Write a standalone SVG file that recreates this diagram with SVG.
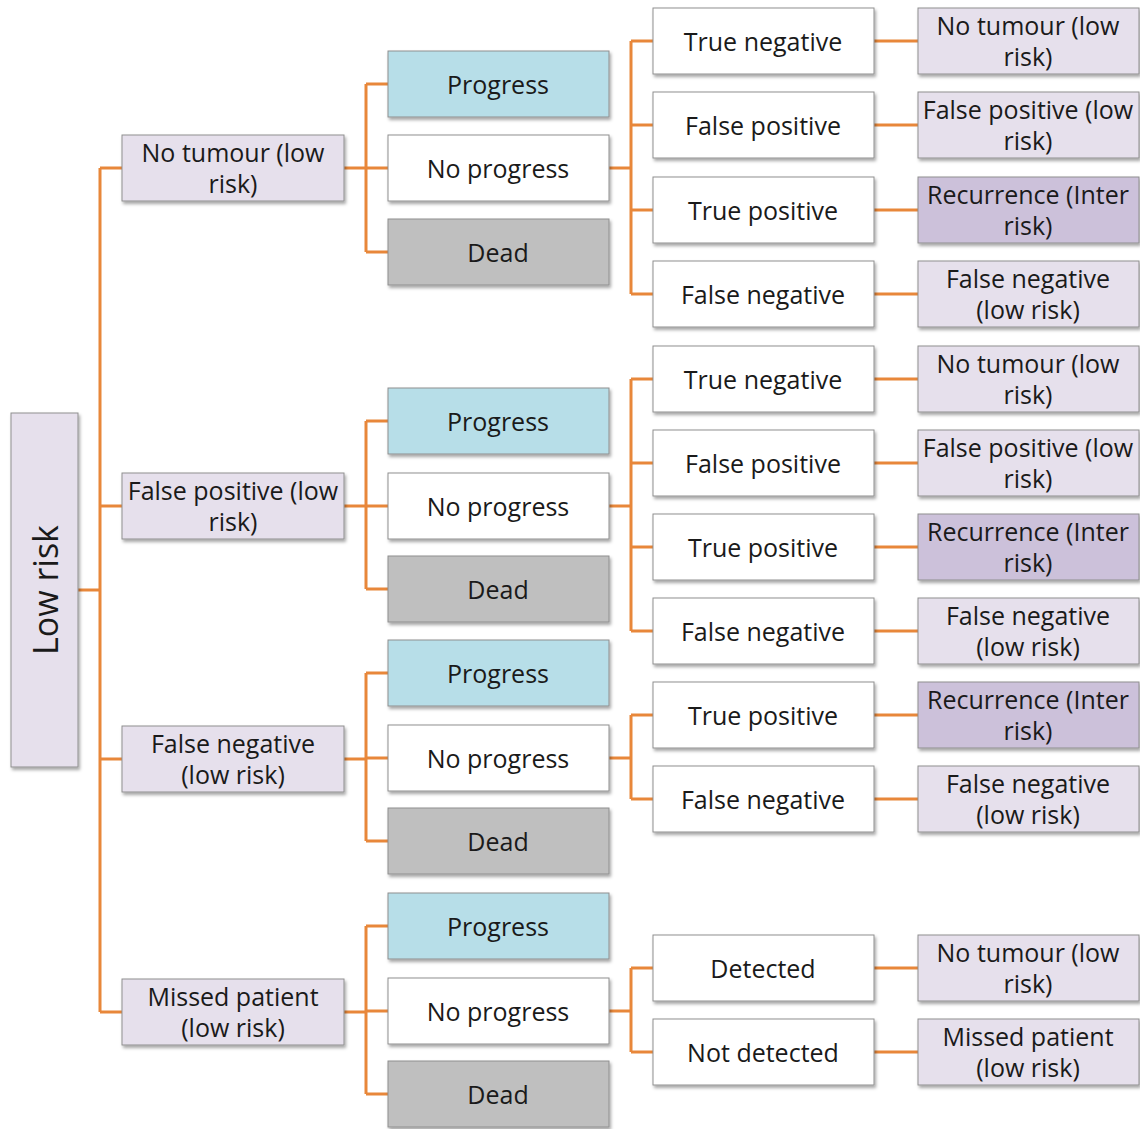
<svg xmlns="http://www.w3.org/2000/svg" width="1140" height="1129" viewBox="0 0 1140 1129">
<defs>
<filter id="sh" x="-10%" y="-10%" width="130%" height="140%">
<feDropShadow dx="1.5" dy="2.5" stdDeviation="1.5" flood-color="#000" flood-opacity="0.35"/>
</filter>
</defs>
<style>
rect{stroke:#8f8f8f;stroke-width:1;filter:url(#sh)}
.lav{fill:#e6e0ec}
.pur{fill:#ccc1da}
.blu{fill:#b7dee8}
.gry{fill:#bfbfbf}
.wht{fill:#ffffff}
text{font-family:"Open Sans","Liberation Sans",sans-serif;font-size:25px;fill:#1a1a1a;text-anchor:middle;dominant-baseline:central}
.c path{fill:none;stroke:#e8873a;stroke-width:3}
</style>
<rect width="1140" height="1129" fill="#ffffff" style="stroke:none;filter:none"/>
<g class="c" id="connectors">
<path d="M78 590H100M100 168V1012M100 168H122M100 506H122M100 759H122M100 1012H122"/>
<path d="M344 168H366M366 84V252M366 84H388M366 168H388M366 252H388"/>
<path d="M344 506H366M366 421V589M366 421H388M366 506H388M366 589H388"/>
<path d="M344 759H366M366 673V841M366 673H388M366 758H388M366 841H388"/>
<path d="M344 1012H366M366 926V1094M366 926H388M366 1011H388M366 1094H388"/>
<path d="M609 168H631M631 41V294M631 41H653M631 125H653M631 210H653M631 294H653"/>
<path d="M609 506H631M631 379V631M631 379H653M631 463H653M631 547H653M631 631H653"/>
<path d="M609 758H631M631 715V799M631 715H653M631 799H653"/>
<path d="M609 1011H631M631 968V1052M631 968H653M631 1052H653"/>
<path d="M874 41H918M874 125H918M874 210H918M874 294H918M874 379H918M874 463H918M874 547H918M874 631H918M874 715H918M874 799H918M874 968H918M874 1052H918"/>
</g>
<g id="low-risk"><rect class="lav" x="11" y="413" width="67" height="354"/><text transform="translate(45 590) rotate(-90)" style="font-size:34px">Low risk</text></g>
<g id="l1-a"><rect class="lav" x="122" y="135" width="222" height="66"/><text x="233" y="152">No tumour (low</text><text x="233" y="183">risk)</text></g>
<g id="l1-b"><rect class="lav" x="122" y="473" width="222" height="66"/><text x="233" y="490">False positive (low</text><text x="233" y="521">risk)</text></g>
<g id="l1-c"><rect class="lav" x="122" y="726" width="222" height="66"/><text x="233" y="743">False negative</text><text x="233" y="774">(low risk)</text></g>
<g id="l1-d"><rect class="lav" x="122" y="979" width="222" height="66"/><text x="233" y="996">Missed patient</text><text x="233" y="1027">(low risk)</text></g>
<g id="a-progress"><rect class="blu" x="388" y="51" width="221" height="66"/><text x="498" y="84">Progress</text></g>
<g id="a-noprogress"><rect class="wht" x="388" y="135" width="221" height="66"/><text x="498" y="168">No progress</text></g>
<g id="a-dead"><rect class="gry" x="388" y="219" width="221" height="66"/><text x="498" y="252">Dead</text></g>
<g id="b-progress"><rect class="blu" x="388" y="388" width="221" height="66"/><text x="498" y="421">Progress</text></g>
<g id="b-noprogress"><rect class="wht" x="388" y="473" width="221" height="66"/><text x="498" y="506">No progress</text></g>
<g id="b-dead"><rect class="gry" x="388" y="556" width="221" height="66"/><text x="498" y="589">Dead</text></g>
<g id="c-progress"><rect class="blu" x="388" y="640" width="221" height="66"/><text x="498" y="673">Progress</text></g>
<g id="c-noprogress"><rect class="wht" x="388" y="725" width="221" height="66"/><text x="498" y="758">No progress</text></g>
<g id="c-dead"><rect class="gry" x="388" y="808" width="221" height="66"/><text x="498" y="841">Dead</text></g>
<g id="d-progress"><rect class="blu" x="388" y="893" width="221" height="66"/><text x="498" y="926">Progress</text></g>
<g id="d-noprogress"><rect class="wht" x="388" y="978" width="221" height="66"/><text x="498" y="1011">No progress</text></g>
<g id="d-dead"><rect class="gry" x="388" y="1061" width="221" height="66"/><text x="498" y="1094">Dead</text></g>
<g id="a-tn"><rect class="wht" x="653" y="8" width="221" height="66"/><text x="763" y="41">True negative</text></g>
<g id="a-fp"><rect class="wht" x="653" y="92" width="221" height="66"/><text x="763" y="125">False positive</text></g>
<g id="a-tp"><rect class="wht" x="653" y="177" width="221" height="66"/><text x="763" y="210">True positive</text></g>
<g id="a-fn"><rect class="wht" x="653" y="261" width="221" height="66"/><text x="763" y="294">False negative</text></g>
<g id="b-tn"><rect class="wht" x="653" y="346" width="221" height="66"/><text x="763" y="379">True negative</text></g>
<g id="b-fp"><rect class="wht" x="653" y="430" width="221" height="66"/><text x="763" y="463">False positive</text></g>
<g id="b-tp"><rect class="wht" x="653" y="514" width="221" height="66"/><text x="763" y="547">True positive</text></g>
<g id="b-fn"><rect class="wht" x="653" y="598" width="221" height="66"/><text x="763" y="631">False negative</text></g>
<g id="c-tp"><rect class="wht" x="653" y="682" width="221" height="66"/><text x="763" y="715">True positive</text></g>
<g id="c-fn"><rect class="wht" x="653" y="766" width="221" height="66"/><text x="763" y="799">False negative</text></g>
<g id="d-det"><rect class="wht" x="653" y="935" width="221" height="66"/><text x="763" y="968">Detected</text></g>
<g id="d-notdet"><rect class="wht" x="653" y="1019" width="221" height="66"/><text x="763" y="1052">Not detected</text></g>
<g id="a-o1"><rect class="lav" x="918" y="8" width="221" height="66"/><text x="1028" y="25">No tumour (low</text><text x="1028" y="56">risk)</text></g>
<g id="a-o2"><rect class="lav" x="918" y="92" width="221" height="66"/><text x="1028" y="109">False positive (low</text><text x="1028" y="140">risk)</text></g>
<g id="a-o3"><rect class="pur" x="918" y="177" width="221" height="66"/><text x="1028" y="194">Recurrence (Inter</text><text x="1028" y="225">risk)</text></g>
<g id="a-o4"><rect class="lav" x="918" y="261" width="221" height="66"/><text x="1028" y="278">False negative</text><text x="1028" y="309">(low risk)</text></g>
<g id="b-o1"><rect class="lav" x="918" y="346" width="221" height="66"/><text x="1028" y="363">No tumour (low</text><text x="1028" y="394">risk)</text></g>
<g id="b-o2"><rect class="lav" x="918" y="430" width="221" height="66"/><text x="1028" y="447">False positive (low</text><text x="1028" y="478">risk)</text></g>
<g id="b-o3"><rect class="pur" x="918" y="514" width="221" height="66"/><text x="1028" y="531">Recurrence (Inter</text><text x="1028" y="562">risk)</text></g>
<g id="b-o4"><rect class="lav" x="918" y="598" width="221" height="66"/><text x="1028" y="615">False negative</text><text x="1028" y="646">(low risk)</text></g>
<g id="c-o1"><rect class="pur" x="918" y="682" width="221" height="66"/><text x="1028" y="699">Recurrence (Inter</text><text x="1028" y="730">risk)</text></g>
<g id="c-o2"><rect class="lav" x="918" y="766" width="221" height="66"/><text x="1028" y="783">False negative</text><text x="1028" y="814">(low risk)</text></g>
<g id="d-o1"><rect class="lav" x="918" y="935" width="221" height="66"/><text x="1028" y="952">No tumour (low</text><text x="1028" y="983">risk)</text></g>
<g id="d-o2"><rect class="lav" x="918" y="1019" width="221" height="66"/><text x="1028" y="1036">Missed patient</text><text x="1028" y="1067">(low risk)</text></g>
</svg>
